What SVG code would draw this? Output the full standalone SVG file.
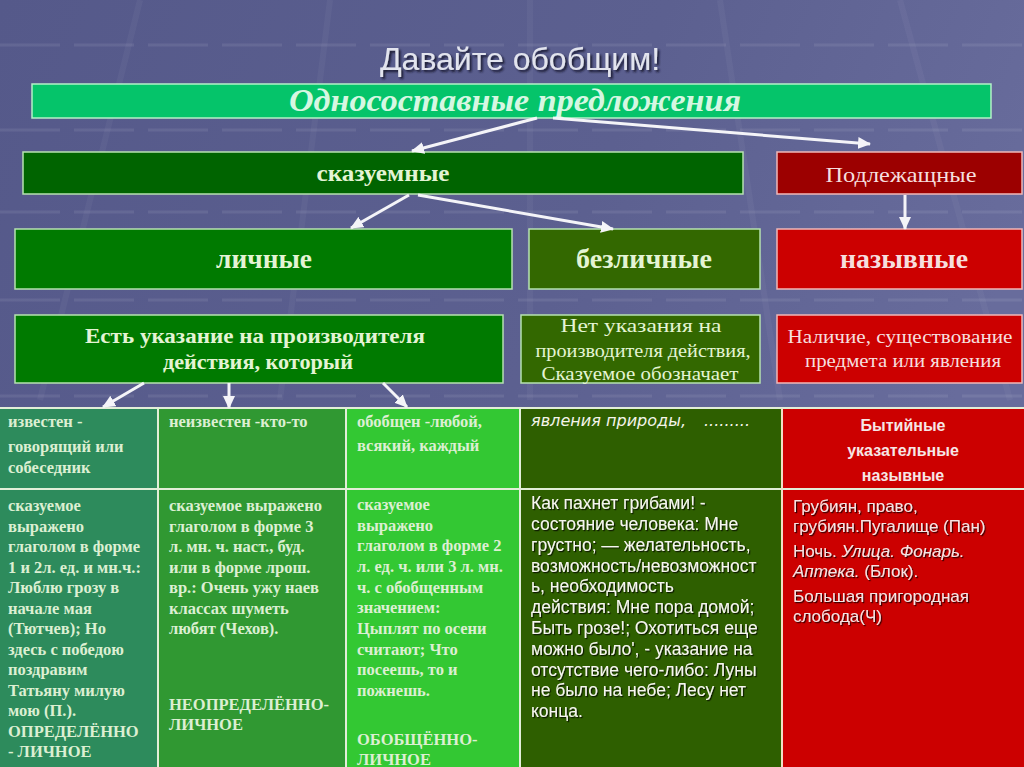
<svg xmlns="http://www.w3.org/2000/svg" width="1024" height="767" viewBox="0 0 1024 767">
<defs>
<linearGradient id="bg" x1="0" y1="0" x2="1" y2="0.3">
<stop offset="0" stop-color="#55598a"/>
<stop offset="0.6" stop-color="#5c6090"/>
<stop offset="1" stop-color="#686c9c"/>
</linearGradient>
<marker id="ah" markerUnits="userSpaceOnUse" markerWidth="14" markerHeight="12" refX="12" refY="6" orient="auto">
<path d="M0,0 L13,6 L0,12 Z" fill="#f4f4f8"/>
</marker>
<filter id="sh" x="-5%" y="-20%" width="110%" height="150%">
<feDropShadow dx="2" dy="2" stdDeviation="0.8" flood-color="#15152a" flood-opacity="0.95"/>
</filter>
<filter id="ts" x="-5%" y="-20%" width="110%" height="150%">
<feDropShadow dx="1.2" dy="1.2" stdDeviation="0.5" flood-color="#000" flood-opacity="0.75"/>
</filter>
</defs>
<style>
.bx{stroke:#b6e2b0;stroke-width:1.5}
.rb{stroke:#f0b8b8;stroke-width:1.5}
.sf{font-family:"Liberation Serif","DejaVu Serif",serif}
.ss{font-family:"Liberation Sans","Arial",sans-serif}
.gt{fill:#e4f4d4}
.rt{fill:#f6dede}
.cell{font-family:"Liberation Serif","DejaVu Serif",serif;font-weight:bold;font-size:16.5px;fill:#dcefd2}
.ar{font-family:"Liberation Sans","Arial",sans-serif;font-size:17.5px;fill:#f6f6f0}
.conn line{stroke:#f4f4f8;stroke-width:3;marker-end:url(#ah)}
.grid{stroke:#e2eed8;stroke-width:2}
</style>

<rect width="1024" height="767" fill="url(#bg)"/>
<g opacity="0.08" stroke="#ffffff" stroke-width="3" stroke-dasharray="60 14">
<line x1="0" y1="130" x2="1024" y2="130"/>
<line x1="0" y1="212" x2="1024" y2="212"/>
<line x1="0" y1="300" x2="1024" y2="300"/>
<line x1="0" y1="396" x2="1024" y2="396"/>
<line x1="0" y1="45" x2="1024" y2="45"/>
</g>
<g opacity="0.035" stroke="#ffffff" stroke-width="6">
<line x1="140" y1="0" x2="40" y2="400"/>
<line x1="330" y1="0" x2="280" y2="400"/>
<line x1="530" y1="0" x2="530" y2="400"/>
<line x1="720" y1="0" x2="780" y2="400"/>
<line x1="900" y1="0" x2="1010" y2="400"/>
</g>

<g id="title">
<text x="520" y="70" text-anchor="middle" class="ss" font-size="32" fill="#e2e4ee" filter="url(#sh)">Давайте обобщим!</text>
</g>

<g id="n-odnosost">
<rect x="32" y="84" width="959" height="34" fill="#05c46a" stroke="#b4f0c8" stroke-width="1.5"/>
<text x="515" y="111" text-anchor="middle" class="sf" font-size="31" font-weight="bold" font-style="italic" fill="#d6f7e2" textLength="452" lengthAdjust="spacingAndGlyphs">Односоставные предложения</text>
</g>

<g id="n-skaz">
<rect class="bx" x="23" y="152" width="720" height="42" fill="#006400"/>
<text x="383" y="181" text-anchor="middle" class="sf gt" font-size="23" font-weight="bold" textLength="133" lengthAdjust="spacingAndGlyphs">сказуемные</text>
</g>

<g id="n-podl">
<rect class="rb" x="777" y="152" width="245" height="42" fill="#9c0000"/>
<text x="901" y="182" text-anchor="middle" class="sf rt" font-size="21" textLength="151" lengthAdjust="spacingAndGlyphs">Подлежащные</text>
</g>

<g id="n-lichn">
<rect class="bx" x="15" y="229" width="497" height="60" fill="#007a00"/>
<text x="264" y="268" text-anchor="middle" class="sf gt" font-size="28" font-weight="bold" textLength="96" lengthAdjust="spacingAndGlyphs">личные</text>
</g>

<g id="n-bezl">
<rect class="bx" x="529" y="229" width="231" height="60" fill="#336800"/>
<text x="644" y="268" text-anchor="middle" class="sf gt" font-size="28" font-weight="bold" textLength="136" lengthAdjust="spacingAndGlyphs">безличные</text>
</g>

<g id="n-nazyv">
<rect class="rb" x="777" y="229" width="245" height="60" fill="#cc0000"/>
<text x="904" y="268" text-anchor="middle" class="sf rt" font-size="28" font-weight="bold" textLength="128" lengthAdjust="spacingAndGlyphs">назывные</text>
</g>

<g id="n-est">
<rect class="bx" x="15" y="315" width="488" height="68" fill="#007a00"/>
<text x="255" y="343" text-anchor="middle" class="sf gt" font-size="20" font-weight="bold" textLength="340" lengthAdjust="spacingAndGlyphs">Есть указание на производителя</text>
<text x="258" y="369" text-anchor="middle" class="sf gt" font-size="20" font-weight="bold" textLength="190" lengthAdjust="spacingAndGlyphs">действия, который</text>
</g>

<g id="n-net">
<rect class="bx" x="521" y="315" width="239" height="68" fill="#336800"/>
<text x="641" y="332" text-anchor="middle" class="sf gt" font-size="19" textLength="161" lengthAdjust="spacingAndGlyphs">Нет указания на</text>
<text x="643" y="357" text-anchor="middle" class="sf gt" font-size="19" textLength="215" lengthAdjust="spacingAndGlyphs">производителя действия,</text>
<text x="640" y="380" text-anchor="middle" class="sf gt" font-size="19" textLength="197" lengthAdjust="spacingAndGlyphs">Сказуемое обозначает</text>
</g>

<g id="n-nalichie">
<rect class="rb" x="777" y="315" width="245" height="68" fill="#cc0000"/>
<text x="900" y="343" text-anchor="middle" class="sf rt" font-size="19" textLength="225" lengthAdjust="spacingAndGlyphs">Наличие, существование</text>
<text x="903" y="367" text-anchor="middle" class="sf rt" font-size="19" textLength="196" lengthAdjust="spacingAndGlyphs">предмета или явления</text>
</g>

<g id="table-bg">
<rect x="0" y="409" width="158" height="358" fill="#2d8b5c"/>
<rect x="158" y="409" width="188" height="358" fill="#309832"/>
<rect x="346" y="409" width="174" height="358" fill="#33c833"/>
<rect x="520" y="409" width="262" height="358" fill="#2e5f00"/>
<rect x="782" y="409" width="242" height="358" fill="#cc0000"/>
<g class="grid">
<line x1="0" y1="408" x2="1024" y2="408"/>
<line x1="0" y1="489" x2="1024" y2="489"/>
<line x1="158" y1="408" x2="158" y2="767"/>
<line x1="346" y1="408" x2="346" y2="767"/>
<line x1="520" y1="408" x2="520" y2="767"/>
<line x1="782" y1="408" x2="782" y2="767" stroke="#f0e0c8"/>
</g>
</g>

<g id="c-izvesten" class="cell">
<text x="8" y="427">известен -</text>
<text x="8" y="452">говорящий или</text>
<text x="8" y="473">собеседник</text>
</g>
<g id="c-neizvesten" class="cell">
<text x="169" y="427">неизвестен -кто-то</text>
</g>
<g id="c-obobshen" class="cell">
<text x="357" y="427">обобщен -любой,</text>
<text x="357" y="451">всякий, каждый</text>
</g>
<g id="c-yavleniya" font-family="'DejaVu Sans',sans-serif" font-style="italic" font-size="15.5" fill="#f4f4ea">
<text x="531" y="426" textLength="155" lengthAdjust="spacingAndGlyphs">явления природы,</text>
<text x="704" y="426" textLength="46" lengthAdjust="spacingAndGlyphs">.........</text>
</g>
<g id="c-bytiynye" class="ss" font-weight="bold" font-size="16" fill="#f6e6e6" text-anchor="middle">
<text x="903" y="431">Бытийные</text>
<text x="903" y="456">указательные</text>
<text x="903" y="481">назывные</text>
</g>

<g id="c-opred" class="cell">
<text x="8" y="511">сказуемое</text>
<text x="8" y="532">выражено</text>
<text x="8" y="552">глаголом в форме</text>
<text x="8" y="573">1 и 2л. ед. и мн.ч.:</text>
<text x="8" y="593">Люблю грозу в</text>
<text x="8" y="614">начале мая</text>
<text x="8" y="634">(Тютчев); Но</text>
<text x="8" y="655">здесь с победою</text>
<text x="8" y="675">поздравим</text>
<text x="8" y="696">Татьяну милую</text>
<text x="8" y="716">мою (П.).</text>
<text x="8" y="737">ОПРЕДЕЛЁННО</text>
<text x="8" y="757">- ЛИЧНОЕ</text>
</g>

<g id="c-neopred" class="cell">
<text x="169" y="511">сказуемое выражено</text>
<text x="169" y="532">глаголом в форме 3</text>
<text x="169" y="552">л. мн. ч. наст., буд.</text>
<text x="169" y="573">или в форме лрош.</text>
<text x="169" y="593">вр.: Очень ужу наев</text>
<text x="169" y="614">классах шуметь</text>
<text x="169" y="634">любят (Чехов).</text>
<text x="169" y="710">НЕОПРЕДЕЛЁННО-</text>
<text x="169" y="730">ЛИЧНОЕ</text>
</g>

<g id="c-obobsh" class="cell">
<text x="357" y="510">сказуемое</text>
<text x="357" y="531">выражено</text>
<text x="357" y="551">глаголом в форме 2</text>
<text x="357" y="572">л. ед. ч. или 3 л. мн.</text>
<text x="357" y="593">ч. с обобщенным</text>
<text x="357" y="613">значением:</text>
<text x="357" y="634">Цыплят по осени</text>
<text x="357" y="655">считают; Что</text>
<text x="357" y="675">посеешь, то и</text>
<text x="357" y="696">пожнешь.</text>
<text x="357" y="745">ОБОБЩЁННО-</text>
<text x="357" y="765">ЛИЧНОЕ</text>
</g>

<g id="c-bezl-ex" class="ar" filter="url(#ts)">
<text x="531" y="509">Как пахнет грибами! -</text>
<text x="531" y="530">состояние человека: Мне</text>
<text x="531" y="551">грустно; — желательность,</text>
<text x="531" y="572">возможность/невозможност</text>
<text x="531" y="592">ь, необходимость</text>
<text x="531" y="613">действия: Мне пора домой;</text>
<text x="531" y="634">Быть грозе!; Охотиться еще</text>
<text x="531" y="655">можно было', - указание на</text>
<text x="531" y="676">отсутствие чего-либо: Луны</text>
<text x="531" y="696">не было на небе; Лесу нет</text>
<text x="531" y="717">конца.</text>
</g>

<g id="c-nazyv-ex" class="ss" font-size="17" fill="#f6e4e4" filter="url(#ts)">
<text x="793" y="512">Грубиян, право,</text>
<text x="793" y="532">грубиян.Пугалище (Пан)</text>
<text x="793" y="557">Ночь. <tspan font-style="italic">Улица. Фонарь.</tspan></text>
<text x="793" y="577"><tspan font-style="italic">Аптека.</tspan> (Блок).</text>
<text x="793" y="602">Большая пригородная</text>
<text x="793" y="622">слобода(Ч)</text>
</g>

<g id="connectors" class="conn">
<line x1="537" y1="118" x2="412" y2="151"/>
<line x1="553" y1="118" x2="870" y2="144"/>
<line x1="409" y1="195" x2="351" y2="228"/>
<line x1="418" y1="195" x2="613" y2="229"/>
<line x1="905" y1="195" x2="905" y2="229"/>
<line x1="144" y1="383" x2="103" y2="407"/>
<line x1="229" y1="383" x2="229" y2="408"/>
<line x1="383" y1="383" x2="407" y2="407"/>
</g>
</svg>
